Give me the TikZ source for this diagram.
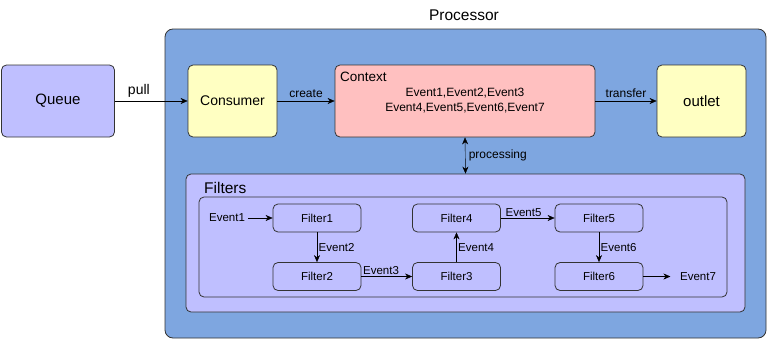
\documentclass[tikz,border=0pt]{standalone}
\usepackage{fontspec}
\setmainfont{Liberation Sans}
\usetikzlibrary{arrows.meta}
\definecolor{procblue}{HTML}{7EA6E0}
\definecolor{lilac}{HTML}{BFBFFF}
\definecolor{pyellow}{HTML}{FFFFC2}
\definecolor{ppink}{HTML}{FFC0C0}

\begin{document}
\begin{tikzpicture}[x=1pt, y=-1pt,
      every node/.style={font=\fontsize{12}{14}\selectfont},
      box/.style={draw=black!80, line width=0.8pt, rounded corners=5pt, align=center},
      stage/.style={box, minimum width=89pt, minimum height=72pt, font=\fontsize{15}{18}\selectfont},
      filt/.style={box, fill=lilac, minimum width=88pt, minimum height=28pt,
                   font=\fontsize{11.5}{13}\selectfont},
      ev/.style={font=\fontsize{11.5}{13}\selectfont, inner sep=1.5pt},
      >={Stealth[length=7pt, width=6pt]},
    ]
    \useasboundingbox (0,0) rectangle (768,340);

    % processor frame
    \node[box, fill=procblue, rounded corners=8pt,
          minimum width=601pt, minimum height=309pt] (proc) at (465.5, 183.5) {};
    \node[font=\fontsize{15.5}{18}\selectfont] (proclbl) at (464, 15) {Processor};

    % filter chain frame
    \node[box, fill=lilac, minimum width=559pt, minimum height=138pt] (filters) at (465.5, 243) {};
    \node[anchor=west, inner sep=0pt, font=\fontsize{15.5}{18}\selectfont] (filtlbl) at (204, 188) {Filters};
    \node[box, fill=lilac, minimum width=528pt, minimum height=100pt] (chain) at (463, 247) {};

    % main stages
    \node[stage, fill=lilac, minimum width=113pt] (queue) at (58, 101) {Queue};
    \node[stage, fill=pyellow, font=\fontsize{14}{16}\selectfont] (consumer) at (232.5, 101) {Consumer};
    \node[stage, fill=ppink, minimum width=260pt, font=\fontsize{12}{15}\selectfont] (context) at (465, 101)
      {Event1,Event2,Event3\\Event4,Event5,Event6,Event7};
    \node[anchor=west, inner sep=0pt, font=\fontsize{13.5}{16}\selectfont] (ctxlbl) at (340, 77) {Context};
    \node[stage, fill=pyellow] (outlet) at (701.5, 101) {outlet};

    \draw[->] (queue.east) -- node[pos=0.33, above, font=\fontsize{14}{16}\selectfont] {pull} (consumer.west);
    \draw[->] (consumer.east) -- node[above] {create} (context.west);
    \draw[->] (context.east) -- node[above] {transfer} (outlet.west);
    \draw[<->] (context.south) -- node[right] {processing} (filters.north);

    % filters
    \node[filt] (f1) at (317, 218) {Filter1};
    \node[filt] (f2) at (317, 276.5) {Filter2};
    \node[filt] (f3) at (456.5, 276.5) {Filter3};
    \node[filt] (f4) at (456.5, 218) {Filter4};
    \node[filt] (f5) at (599, 218) {Filter5};
    \node[filt] (f6) at (599, 276.5) {Filter6};
    \node[ev, inner sep=3pt] (ev1) at (227, 218) {Event1};
    \node[ev] (ev7) at (698, 276.5) {Event7};

    \draw[->] (ev1.east) -- (f1.west);
    \draw[->] (f1.south) -- node[ev, right] {Event2} (f2.north);
    \draw[->] (f2.east) -- node[ev, at start, anchor=south west] {Event3} (f3.west);
    \draw[->] (f3.north) -- node[ev, right] {Event4} (f4.south);
    \draw[->] (f4.east) -- node[ev, at start, anchor=south west, xshift=3pt] {Event5} (f5.west);
    \draw[->] (f5.south) -- node[ev, right] {Event6} (f6.north);
    \draw[->, shorten >=8pt] (f6.east) -- (ev7.west);
  \end{tikzpicture}
\end{document}
